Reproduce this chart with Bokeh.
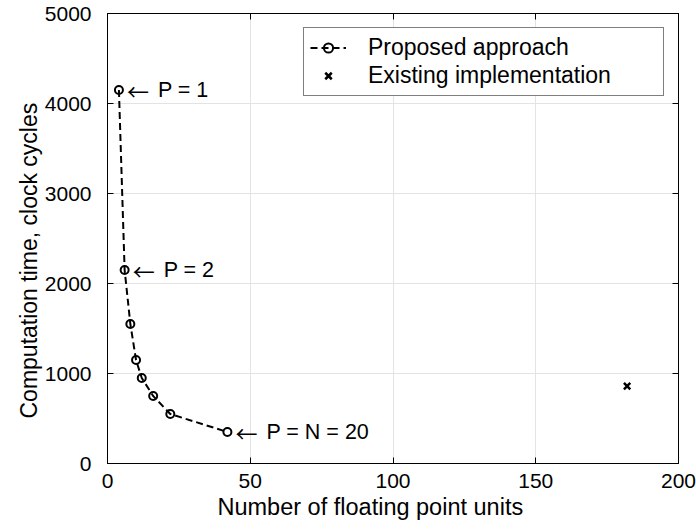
from bokeh.plotting import figure
from bokeh.models import LinearAxis, FixedTicker, Legend, Title
from bokeh.core.properties import value
from bokeh.embed import file_html
from bokeh.resources import INLINE

# Data
fpu_counts = [4, 6, 8, 10, 12, 16, 22, 42]
cycles = [4150, 2150, 1550, 1150, 950, 750, 550, 350]
existing_fpu = [182]
existing_cycles = [860]
ann_x = [4, 6, 42]
ann_y = [4150, 2150, 350]
ann_arrow = ["\u2190", "\u2190", "\u2190"]
ann_text = ["P = 1", "P = 2", "P = N = 20"]
x_ticks = [0, 50, 100, 150, 200]
y_ticks = [0, 1000, 2000, 3000, 4000, 5000]
x_title = "Number of floating point units"
y_title = "Computation time, clock cycles"

FONT = "Liberation Sans"

p = figure(width=696, height=529, x_range=(0, 200), y_range=(0, 5000),
           output_backend="svg", toolbar_location=None,
           min_border_left=107, min_border_right=18,
           min_border_top=13, min_border_bottom=66)

p.background_fill_color = "white"
p.border_fill_color = "white"
p.outline_line_color = "black"
p.outline_line_width = 1

for ax in (p.xaxis[0], p.yaxis[0]):
    ax.major_tick_in = 6
    ax.major_tick_out = 0
    ax.minor_tick_line_color = None
    ax.axis_line_color = "black"
    ax.major_tick_line_color = "black"
    ax.major_label_text_font = FONT
    ax.major_label_text_font_size = "21px"
    ax.major_label_text_color = "black"

p.xaxis[0].ticker = FixedTicker(ticks=x_ticks)
p.yaxis[0].ticker = FixedTicker(ticks=y_ticks)
p.xaxis[0].major_label_standoff = 10
p.yaxis[0].major_label_standoff = 16

for loc, ticks in (("right", y_ticks), ("above", x_ticks)):
    a = LinearAxis(ticker=FixedTicker(ticks=ticks))
    a.major_tick_in = 6
    a.major_tick_out = 0
    a.minor_tick_line_color = None
    a.major_label_text_font_size = "0px"
    a.major_label_standoff = 0
    a.axis_line_color = "black"
    a.major_tick_line_color = "black"
    p.add_layout(a, loc)

# axis titles as side titles so they can sit slightly off-centre like the reference
xt = Title(text=x_title, align="left", offset=110, text_font=FONT,
           text_font_size="23.5px", text_font_style="normal", text_color="black",
           standoff=3)
yt = Title(text=y_title, align="left", offset=45, text_font=FONT,
           text_font_size="23px", text_font_style="normal", text_color="black",
           standoff=0)
p.add_layout(xt, "below")
p.add_layout(yt, "left")

p.xgrid.ticker = FixedTicker(ticks=x_ticks)
p.ygrid.ticker = FixedTicker(ticks=y_ticks)
p.grid.grid_line_color = "#e3e3e3"
p.grid.grid_line_width = 1

r_line = p.line(fpu_counts, cycles, line_color="black", line_width=2, line_dash="7 4")
r_pts = p.scatter(fpu_counts, cycles, marker="circle", size=8, line_color="black",
                  line_width=2, fill_alpha=0)
r_ex = p.scatter(existing_fpu, existing_cycles, marker="x", size=9, line_color="black",
                 line_width=2.5)

p.text(x=ann_x, y=ann_y, text=ann_arrow, x_offset=8, text_baseline="middle",
       text_align="left", text_font=value("Noto Sans CJK JP"), text_font_size="22px",
       text_color="black")
p.text(x=ann_x, y=ann_y, text=ann_text, x_offset=39, text_baseline="middle",
       text_align="left", text_font=value(FONT), text_font_size="21.5px", text_color="black")

legend = Legend(items=[("Proposed approach", [r_line, r_pts]),
                       ("Existing implementation", [r_ex])],
                location="top_right")
legend.margin = 14
legend.border_line_color = "black"
legend.border_line_width = 1
legend.background_fill_color = "white"
legend.background_fill_alpha = 1
legend.label_text_font = FONT
legend.label_text_font_size = "23px"
legend.label_text_color = "black"
legend.glyph_width = 36
legend.glyph_height = 23
legend.label_standoff = 22
legend.label_width = 289
legend.label_height = 23
legend.padding = 6
legend.spacing = 1
p.add_layout(legend, "center")

open("out.html", "w").write(file_html(p, INLINE))
